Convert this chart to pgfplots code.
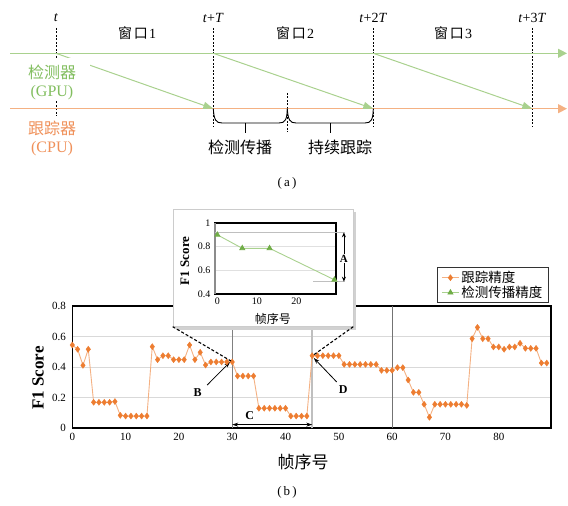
\documentclass[border=0pt]{standalone}
\usepackage{fontspec}
\setmainfont{Liberation Serif}
\newfontfamily\cjk{Noto Sans CJK SC}
\usepackage{pgfplots}
\pgfplotsset{compat=1.18}
\usetikzlibrary{arrows.meta}
\definecolor{gline}{RGB}{169,209,142}
\definecolor{gmark}{RGB}{112,173,71}
\definecolor{oline}{RGB}{244,177,131}
\definecolor{omark}{RGB}{237,125,49}
\definecolor{gtext}{RGB}{130,190,95}
\definecolor{otext}{RGB}{240,145,90}
\newcommand{\fs}[1]{\fontsize{#1}{#1}\selectfont}

\pgfplotstableread{
x y
0 0.545
1 0.517
2 0.412
3 0.517
4 0.17
5 0.17
6 0.17
7 0.17
8 0.175
9 0.085
10 0.08
11 0.08
12 0.08
13 0.08
14 0.08
15 0.534
16 0.449
17 0.475
18 0.475
19 0.449
20 0.449
21 0.449
22 0.545
23 0.449
24 0.497
25 0.414
26 0.434
27 0.434
28 0.434
29 0.434
30 0.434
31 0.342
32 0.342
33 0.342
34 0.342
35 0.131
36 0.131
37 0.131
38 0.131
39 0.131
40 0.131
41 0.08
42 0.08
43 0.08
44 0.08
45 0.475
46 0.475
47 0.475
48 0.475
49 0.475
50 0.475
51 0.418
52 0.418
53 0.418
54 0.418
55 0.418
56 0.418
57 0.418
58 0.379
59 0.379
60 0.379
61 0.397
62 0.397
63 0.316
64 0.235
65 0.235
66 0.157
67 0.072
68 0.157
69 0.157
70 0.157
71 0.157
72 0.157
73 0.157
74 0.15
75 0.586
76 0.66
77 0.586
78 0.586
79 0.532
80 0.532
81 0.517
82 0.532
83 0.532
84 0.556
85 0.523
86 0.523
87 0.523
88 0.427
89 0.427
}\trackdata

\pgfplotstableread{
x y
0 0.90
6.3 0.786
13.2 0.786
29.6 0.52
}\detdata

\begin{document}
\begin{tikzpicture}[x=1pt,y=1pt]
\useasboundingbox (0,0) rectangle (568,506);
\coordinate (mainLL) at (72.3,77.7);
\coordinate (insetLL) at (215,212);

% ---------------- part (a) ----------------
\begin{scope}[dash pattern=on 2pt off 1.5pt, line width=0.8pt]
\draw (56,478) -- (56,388);
\draw (213.3,478) -- (213.3,379);
\draw (373.3,478) -- (373.3,379);
\draw (532.3,478) -- (532.3,379);
\draw (287.3,413) -- (287.3,374);
\end{scope}
\draw[gline, line width=1.2pt, -{Triangle[length=9pt,width=9pt]}] (10,452.7) -- (567,452.7);
\draw[oline, line width=1.2pt, -{Triangle[length=9pt,width=9pt]}] (10,397.3) -- (567,397.3);
\begin{scope}[gline, line width=1pt, -{Triangle[length=10pt,width=7pt]}]
\draw (56,452.7) -- (213.3,397.3);
\draw (213.3,452.7) -- (373.3,397.3);
\draw (373.3,452.7) -- (532.3,397.3);
\end{scope}
\fill[white] (20,448) rectangle (90,405);
\fill[white] (20,390) rectangle (90,345);
\node[gtext, font=\fs{16}] at (52,434) {\cjk 检测器};
\node[gtext, font=\fs{16}] at (52,413) {(GPU)};
\node[otext, font=\fs{16}] at (52,378) {\cjk 跟踪器};
\node[otext, font=\fs{16}] at (52,357) {(CPU)};
% braces
\draw[line width=0.9pt] (213.3,397.3) .. controls (214,386) and (216,383) .. (222,383) -- (279,383) .. controls (285,383) and (287,386) .. (287.3,397.3);
\draw[line width=0.9pt] (245,383) -- (245,373);
\draw[line width=0.9pt] (287.3,397.3) .. controls (288,386) and (290,383) .. (296,383) -- (365,383) .. controls (371,383) and (373,386) .. (373.3,397.3);
\draw[line width=0.9pt] (330,383) -- (330,373);
\node[font=\fs{16}] at (240,359) {\cjk 检测传播};
\node[font=\fs{16}] at (340,359) {\cjk 持续跟踪};
% time labels
\node[font=\fs{14}] at (56,488) {\textit{t}};
\node[font=\fs{14}] at (213.3,488) {\textit{t}+\textit{T}};
\node[font=\fs{14}] at (373.3,488) {\textit{t}+2\textit{T}};
\node[font=\fs{14}] at (532.3,488) {\textit{t}+3\textit{T}};
\node[font=\fs{14}] at (137,473) {{\cjk 窗\hspace{2pt}口}\hspace{1pt}1};
\node[font=\fs{14}] at (295,473) {{\cjk 窗\hspace{2pt}口}\hspace{1pt}2};
\node[font=\fs{14}] at (453,473) {{\cjk 窗\hspace{2pt}口}\hspace{1pt}3};
\node[font=\fs{13}] at (287,323) {(\,a\,)};
\node[font=\fs{13}] at (287,14) {(\,b\,)};

% ---------------- part (b): main axis ----------------
\begin{axis}[
  at={(mainLL)}, anchor=south west,
  scale only axis, width=478.7pt, height=122.3pt,
  xmin=0, xmax=89.8, ymin=0, ymax=0.8,
  xtick={0,10,20,30,40,50,60,70,80},
  ytick={0,0.2,0.4,0.6,0.8},
  yticklabels={0,0.2,0.4,0.6,0.8},
  ymajorgrids, grid style={color=black!15, line width=0.6pt},
  axis line style={black, line width=1.6pt},
  tick style={draw=none},
  tick label style={font=\fs{11}},
  /pgf/number format/assume math mode=true,
  yticklabel style={xshift=-3pt},
  xticklabel style={yshift=-1pt},
  xlabel={\cjk 帧序号},
  xlabel style={at={(axis description cs:0.482,-0.276)}, anchor=center, font=\fs{17}},
  ylabel={F1 Score},
  ylabel style={at={(axis description cs:-0.0717,0.411)}, anchor=center, font=\bfseries\fs{17}},
  legend style={at={(0.9955,1.316)}, anchor=north east, draw=black!80, line width=0.8pt,
    font=\cjk\fs{13.5}, inner xsep=4pt, inner ysep=1.5pt, row sep=-2pt},
  legend cell align=left,
]
\draw[black!50, line width=0.8pt] (axis cs:30,0) -- (axis cs:30,0.8);
\draw[black!25, line width=1.5pt] (axis cs:45,0) -- (axis cs:45,0.8);
\draw[black!55, line width=0.8pt] (axis cs:60,0) -- (axis cs:60,0.8);
\addplot[oline, line width=0.9pt, mark=diamond*, mark size=3pt,
  mark options={draw=omark, fill=omark, line width=0.4pt}] table[x=x,y=y] {\trackdata};
\addlegendentry{跟踪精度}
\addlegendimage{gline, line width=0.9pt, mark=triangle*, mark size=2.8pt, mark options={draw=gmark, fill=gmark}}
\addlegendentry{检测传播精度}
% annotations
\draw[line width=0.8pt, -{Stealth[length=6pt,width=4pt]}] (axis cs:25.3,0.283) -- (axis cs:29.6,0.434);
\node[font=\bfseries\fs{12}] at (axis cs:23.5,0.235) {B};
\draw[line width=0.8pt, -{Stealth[length=6pt,width=4pt]}] (axis cs:49.6,0.303) -- (axis cs:45.3,0.46);
\node[font=\bfseries\fs{12}] at (axis cs:50.8,0.255) {D};
\draw[line width=0.8pt, {Stealth[length=6pt,width=4pt]}-{Stealth[length=6pt,width=4pt]}] (axis cs:30,0.024) -- (axis cs:45,0.024);
\node[font=\bfseries\fs{12}] at (axis cs:33.3,0.08) {C};
\end{axis}

% ---------------- inset ----------------
\fill[black!18] (175.7,176.3) rectangle (356.3,294);
\filldraw[fill=white, draw=black!20] (172.7,179.3) rectangle (353.3,297);
\draw[line width=1.1pt, dash pattern=on 3pt off 2pt] (172.7,179.3) -- (231,145);
\draw[line width=1.1pt, dash pattern=on 3pt off 2pt] (353.3,179.3) -- (313.5,151);

\begin{axis}[
  at={(insetLL)}, anchor=south west,
  scale only axis, width=121pt, height=71pt,
  xmin=-0.6, xmax=30, ymin=0.4, ymax=1,
  xtick={0,10,20}, ytick={0.4,0.6,0.8,1},
  yticklabels={0.4,0.6,0.8,1},
  ymajorgrids, grid style={color=black!12, line width=0.6pt},
  axis line style={black, line width=1.6pt},
  tick style={draw=none},
  tick label style={font=\fs{10}},
  /pgf/number format/assume math mode=true,
  yticklabel style={xshift=-1pt},
  clip=false,
  xlabel={\cjk 帧序号},
  xlabel style={at={(axis description cs:0.479,-0.352)}, anchor=center, font=\fs{12}},
  ylabel={F1 Score},
  ylabel style={at={(axis description cs:-0.248,0.468)}, anchor=center, font=\bfseries\fs{13}},
]
\draw[black!45, line width=1.8pt] (axis cs:-0.6,0.4) -- (axis cs:-0.6,1);
\addplot[gline, line width=0.9pt, mark=triangle*, mark size=2.8pt,
  mark options={draw=gmark, fill=gmark}] table[x=x,y=y] {\detdata};
\draw[black!25, line width=1.5pt] (axis cs:-0.6,0.921) -- (axis cs:32.2,0.921);
\draw[black!25, line width=1.5pt] (axis cs:24.2,0.504) -- (axis cs:32.2,0.504);
\draw[line width=0.8pt, {Stealth[length=5pt,width=4pt]}-{Stealth[length=5pt,width=4pt]}] (axis cs:32,0.921) -- (axis cs:32,0.504);
\node[fill=white, inner sep=1pt, font=\bfseries\fs{11}] at (axis cs:32,0.70) {A};
\end{axis}
\end{tikzpicture}
\end{document}
